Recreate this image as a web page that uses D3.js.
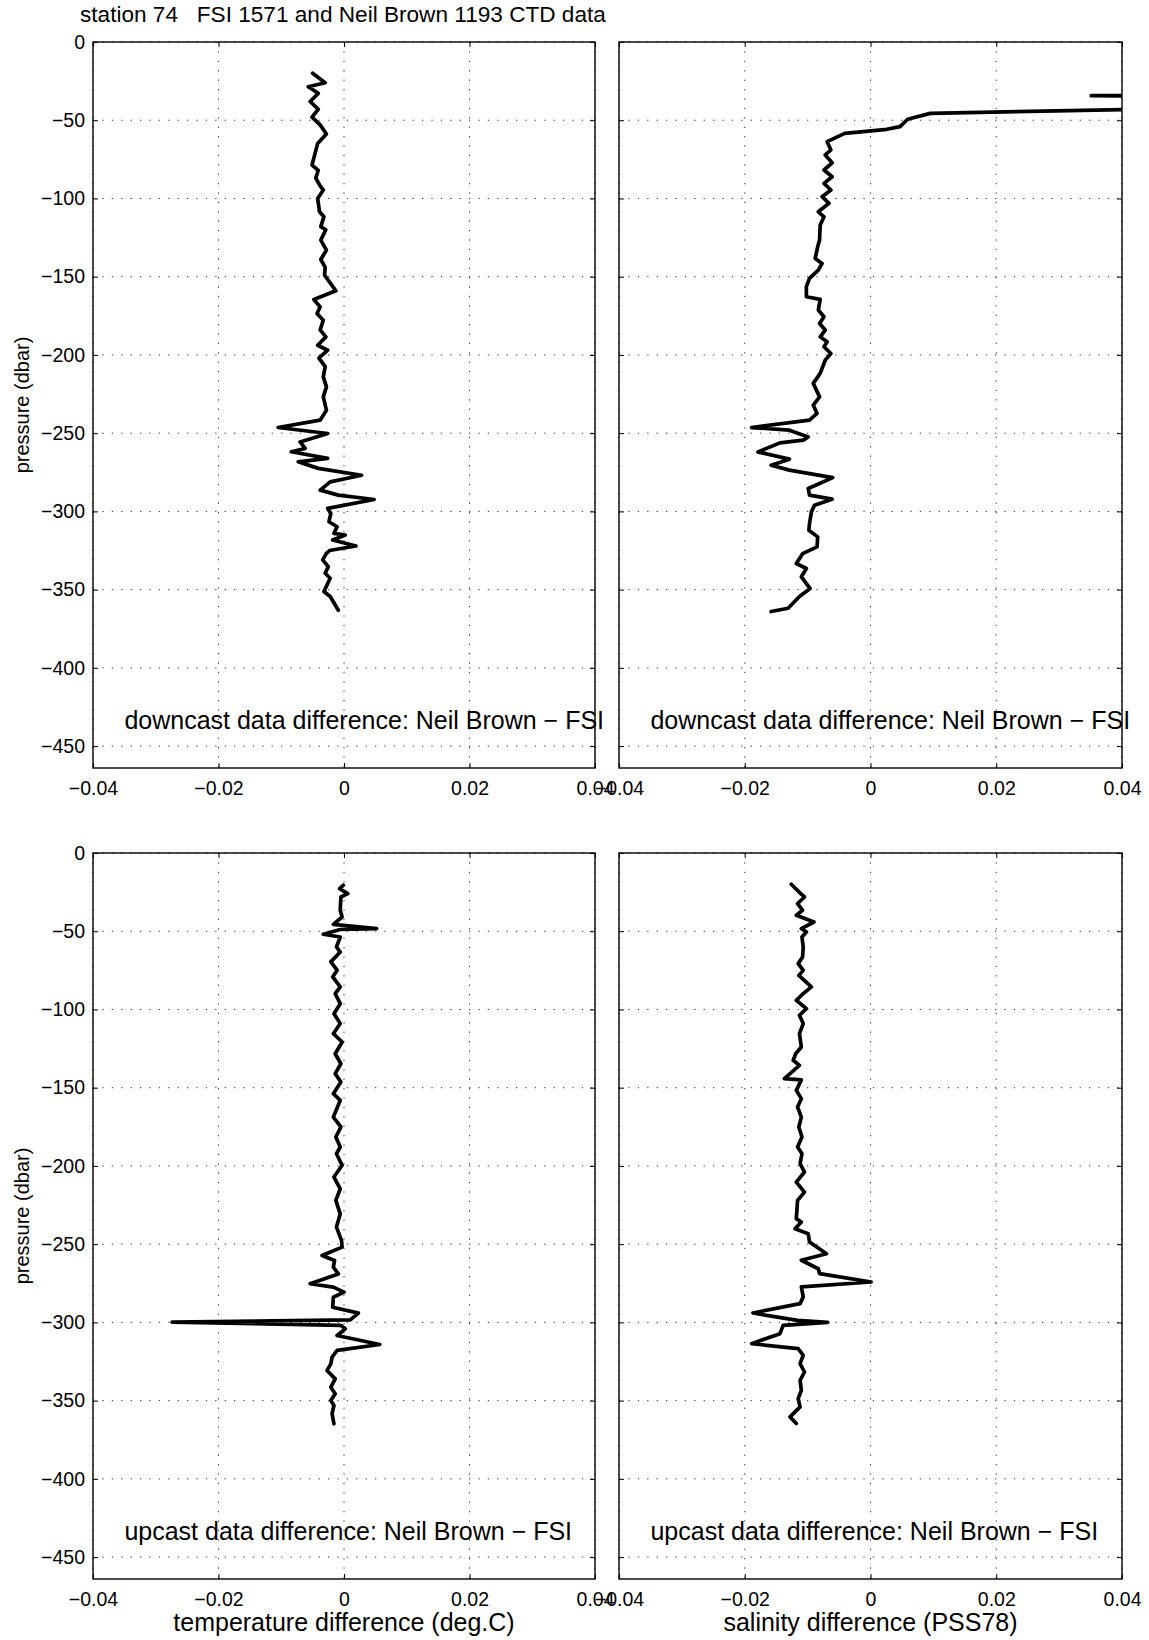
<!DOCTYPE html>
<html>
<head>
<meta charset="utf-8">
<script src="https://cdn.jsdelivr.net/npm/d3@7"></script>
<style>
  body { margin: 0; background: #fff; }
  text { font-family: "Liberation Sans", Arial, Helvetica, sans-serif; fill: #000; }
</style>
</head>
<body>
<svg id="chart"></svg>
<script>
// Figure size
const width = 1149;
const height = 1640;

// Panel boxes (left, right columns / top, bottom rows)
const cols = [{ x0: 93, x1: 595 }, { x0: 619, x1: 1122 }];
const rows = [{ y0: 42, y1: 768 }, { y0: 853, y1: 1579 }];

// Axis ranges and ticks
const xDomain = [-0.04, 0.04];
const yDomain = [-464, 0];
const xTicks = [-0.04, -0.02, 0, 0.02, 0.04];
const yTicks = [0, -50, -100, -150, -200, -250, -300, -350, -400, -450];

const titleText = "station 74   FSI 1571 and Neil Brown 1193 CTD data";
const yLabel = "pressure (dbar)";
const xLabels = ["temperature difference (deg.C)", "salinity difference (PSS78)"];
const noteText = ["downcast data difference: Neil Brown \u2212 FSI", "upcast data difference: Neil Brown \u2212 FSI"];

// downcast temperature difference [diff, pressure]
const downTemp = [
	[-0.0050, -20], [-0.0030, -26], [-0.0057, -28.6], [-0.0041, -32.8], [-0.0054, -38],
	[-0.0041, -43], [-0.0051, -48], [-0.0038, -53], [-0.0028, -58.8], [-0.0042, -64.8],
	[-0.0046, -71], [-0.0051, -78.6], [-0.0041, -82], [-0.0045, -87], [-0.0038, -92],
	[-0.0033, -94.6], [-0.0042, -100], [-0.0039, -108.5], [-0.0032, -111.7], [-0.0037, -118],
	[-0.0029, -120], [-0.0037, -126.6], [-0.0028, -133], [-0.0037, -139], [-0.0030, -144],
	[-0.0031, -149], [-0.0013, -159], [-0.0048, -164.6], [-0.0038, -169.3], [-0.0043, -173.5],
	[-0.0033, -177.8], [-0.0038, -184], [-0.0029, -188.5], [-0.0042, -193.8], [-0.0026, -197],
	[-0.0040, -202], [-0.0030, -207.5], [-0.0033, -214], [-0.0028, -220.4], [-0.0033, -226.8],
	[-0.0028, -235.3], [-0.0038, -241.7], [-0.0105, -246.4], [-0.0026, -250.2], [-0.0070, -255.6],
	[-0.0062, -259.8], [-0.0084, -261.9], [-0.0026, -266.1], [-0.0073, -268.3], [-0.0041, -272.5],
	[0.0028, -276.9], [-0.0022, -281.1], [-0.0038, -286.4], [-0.0009, -289.6], [0.0048, -292.4],
	[-0.0026, -298.1], [-0.0021, -301.3], [-0.0024, -306.6], [-0.0011, -309.8], [-0.0016, -314],
	[0.0002, -315.1], [-0.0018, -318.3], [0.0019, -322.1], [-0.0023, -325], [-0.0028, -326.8],
	[-0.0034, -331], [-0.0025, -335.3], [-0.0030, -339.5], [-0.0022, -342.7], [-0.0032, -351.2],
	[-0.0022, -354.4], [-0.0009, -363.2]
];

// downcast salinity difference [diff, pressure], starts off scale to the right
const downSal = [
	[0.3000, -30], [0.0351, -34.3], [0.3000, -39], [0.0400, -43.2], [0.0095, -45.6],
	[0.0059, -49.4], [0.0047, -54.1], [0.0026, -55.8], [-0.0041, -58.4], [-0.0069, -63.7],
	[-0.0063, -69], [-0.0072, -72.2], [-0.0061, -77.2], [-0.0074, -81.8], [-0.0061, -86.1],
	[-0.0074, -90.4], [-0.0063, -94.6], [-0.0077, -98.9], [-0.0066, -103.1], [-0.0083, -108.5],
	[-0.0074, -111.7], [-0.0080, -117], [-0.0081, -126.6], [-0.0084, -130.9], [-0.0088, -138.3],
	[-0.0077, -141.5], [-0.0083, -145.8], [-0.0097, -151.1], [-0.0102, -156.4], [-0.0102, -162.8],
	[-0.0080, -164.5], [-0.0083, -171.3], [-0.0074, -175.6], [-0.0081, -179.9], [-0.0072, -184.1],
	[-0.0080, -188.4], [-0.0069, -191.6], [-0.0074, -194.8], [-0.0063, -199.1], [-0.0072, -203.3],
	[-0.0080, -211.8], [-0.0091, -218.2], [-0.0086, -222.5], [-0.0081, -226.8], [-0.0091, -232.1],
	[-0.0085, -237.4], [-0.0097, -241.7], [-0.0189, -246.4], [-0.0129, -248.1], [-0.0099, -252.4],
	[-0.0107, -254.5], [-0.0144, -256.2], [-0.0179, -262], [-0.0129, -266.6], [-0.0158, -270.5],
	[-0.0129, -273.6], [-0.0060, -278.4], [-0.0099, -285.4], [-0.0097, -289.6], [-0.0061, -292.2],
	[-0.0089, -296], [-0.0094, -300.3], [-0.0097, -307.7], [-0.0098, -312], [-0.0084, -316.3],
	[-0.0085, -322.7], [-0.0108, -327], [-0.0118, -333.3], [-0.0102, -336.5], [-0.0110, -341.8],
	[-0.0096, -349.3], [-0.0113, -354.4], [-0.0131, -361.9], [-0.0158, -364]
];

// upcast temperature difference [diff, pressure]
const upTemp = [
	[-0.0001, -20.6], [-0.0007, -22.8], [0.0006, -26], [-0.0005, -28.1], [-0.0006, -36.6],
	[-0.0003, -40.9], [-0.0017, -45.6], [0.0052, -48.3], [-0.0006, -48.9], [-0.0033, -51.9],
	[-0.0006, -53.7], [-0.0012, -60], [-0.0006, -63.3], [-0.0021, -69.6], [-0.0011, -74.9],
	[-0.0018, -79.2], [-0.0006, -85.6], [-0.0014, -89.9], [-0.0006, -96.3], [-0.0016, -102.7],
	[-0.0006, -109], [-0.0017, -115.5], [-0.0003, -120.8], [-0.0014, -128.3], [-0.0005, -134.7],
	[-0.0014, -141], [-0.0005, -146.4], [-0.0017, -153.8], [-0.0006, -158.1], [-0.0017, -168.8],
	[-0.0005, -175.1], [-0.0013, -181.5], [-0.0006, -187.9], [-0.0012, -192.2], [-0.0003, -199.6],
	[-0.0016, -207.1], [-0.0006, -214.6], [-0.0013, -222], [-0.0006, -230.6], [-0.0012, -239.1],
	[-0.0004, -247.6], [-0.0003, -251.9], [-0.0035, -257.2], [-0.0015, -260.4], [-0.0017, -264.7],
	[-0.0009, -269], [-0.0054, -275.3], [-0.0017, -277.5], [0.0000, -280.7], [-0.0017, -283.9],
	[-0.0018, -290.3], [0.0023, -294.1], [0.0010, -298.4], [-0.0274, -299.8], [-0.0005, -301.9],
	[0.0002, -304.1], [-0.0011, -308.4], [0.0057, -314.1], [-0.0011, -317.9], [-0.0019, -322.2],
	[-0.0021, -326.5], [-0.0027, -330.7], [-0.0014, -336.1], [-0.0021, -341.4], [-0.0014, -345.6],
	[-0.0021, -349.9], [-0.0016, -353.1], [-0.0019, -358.4], [-0.0016, -364.8]
];

// upcast salinity difference [diff, pressure]
const upSal = [
	[-0.0126, -20], [-0.0111, -26], [-0.0105, -28.1], [-0.0116, -32.3], [-0.0108, -36.6],
	[-0.0118, -39.8], [-0.0090, -44.1], [-0.0110, -48.3], [-0.0102, -50.5], [-0.0109, -53.7],
	[-0.0107, -60], [-0.0108, -66.4], [-0.0115, -70.7], [-0.0107, -75], [-0.0114, -78.2],
	[-0.0094, -85.6], [-0.0107, -89.9], [-0.0118, -94.1], [-0.0102, -99.5], [-0.0113, -103.7],
	[-0.0107, -109], [-0.0113, -115.5], [-0.0110, -124], [-0.0119, -128.3], [-0.0123, -132.5],
	[-0.0113, -135.7], [-0.0137, -144.2], [-0.0110, -145], [-0.0118, -151.7], [-0.0110, -157],
	[-0.0116, -162.4], [-0.0110, -168.8], [-0.0114, -175.1], [-0.0109, -181.5], [-0.0116, -187.9],
	[-0.0109, -192.2], [-0.0112, -198.6], [-0.0105, -203.9], [-0.0118, -210.3], [-0.0105, -216.7],
	[-0.0116, -222], [-0.0118, -233.7], [-0.0110, -235.9], [-0.0120, -240.2], [-0.0099, -243.3],
	[-0.0097, -248.6], [-0.0070, -256.1], [-0.0110, -260.3], [-0.0083, -265.7], [-0.0081, -268.8],
	[0.0001, -274.2], [-0.0110, -277.3], [-0.0107, -283.7], [-0.0112, -288], [-0.0187, -294],
	[-0.0116, -298.7], [-0.0068, -300], [-0.0139, -301.9], [-0.0144, -307.2], [-0.0189, -313.6],
	[-0.0115, -316.8], [-0.0107, -321], [-0.0112, -326.4], [-0.0105, -331.7], [-0.0112, -337],
	[-0.0110, -343.4], [-0.0115, -348.7], [-0.0112, -354], [-0.0128, -360.4], [-0.0118, -364.6]
];

const panels = [
	{ row: 0, col: 0, data: downTemp, note: noteText[0] },
	{ row: 0, col: 1, data: downSal, note: noteText[0] },
	{ row: 1, col: 0, data: upTemp, note: noteText[1] },
	{ row: 1, col: 1, data: upSal, note: noteText[1] },
];

const svg = d3.select("#chart")
	.attr("width", width)
	.attr("height", height)
	.attr("xmlns", "http://www.w3.org/2000/svg");

svg.append("rect")
	.attr("width", width)
	.attr("height", height)
	.attr("fill", "#fff");

const xFmt = (d) => (d === 0 ? "0" : d3.format(".2f")(d));

panels.forEach((p, i) => {
	const c = cols[p.col];
	const r = rows[p.row];

	const xScale = d3.scaleLinear().domain(xDomain).range([c.x0, c.x1]);
	const yScale = d3.scaleLinear().domain(yDomain).range([r.y1, r.y0]);

	const g = svg.append("g");

	// clip for the lines
	svg.append("clipPath")
		.attr("id", "clip" + i)
		.append("rect")
		.attr("x", c.x0)
		.attr("y", r.y0)
		.attr("width", c.x1 - c.x0)
		.attr("height", r.y1 - r.y0);

	// dotted grid
	g.selectAll(".gx")
		.data(xTicks)
		.join("line")
		.attr("x1", (d) => xScale(d))
		.attr("x2", (d) => xScale(d))
		.attr("y1", r.y0)
		.attr("y2", r.y1)
		.attr("stroke", "#333")
		.attr("stroke-width", 1)
		.attr("stroke-dasharray", "1.3,8.1");

	g.selectAll(".gy")
		.data(yTicks)
		.join("line")
		.attr("x1", c.x0)
		.attr("x2", c.x1)
		.attr("y1", (d) => yScale(d))
		.attr("y2", (d) => yScale(d))
		.attr("stroke", "#333")
		.attr("stroke-width", 1)
		.attr("stroke-dasharray", "1.3,8.1");

	// data line
	g.append("path")
		.datum(p.data)
		.attr("clip-path", `url(#clip${i})`)
		.attr("fill", "none")
		.attr("stroke", "#000")
		.attr("stroke-width", 3.7)
		.attr("stroke-linejoin", "round")
		.attr("stroke-linecap", "round")
		.attr("d", d3.line()
			.x((d) => xScale(d[0]))
			.y((d) => yScale(d[1]))
		);

	// axes, ticks pointing inward
	const bottom = g.append("g")
		.attr("transform", `translate(0, ${r.y1})`)
		.call(d3.axisBottom(xScale).tickValues(xTicks).tickFormat(xFmt).tickSize(-5).tickPadding(13));
	bottom.selectAll("text").style("font-size", "19.5px");

	g.append("g")
		.attr("transform", `translate(0, ${r.y0})`)
		.call(d3.axisTop(xScale).tickValues(xTicks).tickFormat("").tickSize(-5));

	const left = g.append("g")
		.attr("transform", `translate(${c.x0}, 0)`)
		.call(d3.axisLeft(yScale).tickValues(yTicks).tickSize(-5).tickPadding(8)
			.tickFormat(p.col === 0 ? null : ""));
	left.selectAll("text").style("font-size", "19.5px");

	g.append("g")
		.attr("transform", `translate(${c.x1}, 0)`)
		.call(d3.axisRight(yScale).tickValues(yTicks).tickFormat("").tickSize(-5));

	g.selectAll(".domain").remove();
	g.selectAll(".tick line").attr("stroke", "#000").attr("stroke-width", 1);

	// box
	g.append("rect")
		.attr("x", c.x0)
		.attr("y", r.y0)
		.attr("width", c.x1 - c.x0)
		.attr("height", r.y1 - r.y0)
		.attr("fill", "none")
		.attr("stroke", "#000")
		.attr("stroke-width", 1.4);

	// panel note
	g.append("text")
		.attr("x", xScale(-0.035))
		.attr("y", yScale(-435))
		.attr("dominant-baseline", "middle")
		.style("font-size", "25px")
		.text(p.note);

	// labels
	if (p.col === 0) {
		g.append("text")
			.attr("transform", `translate(29, ${(r.y0 + r.y1) / 2}) rotate(-90)`)
			.attr("text-anchor", "middle")
			.style("font-size", "20px")
			.text(yLabel);
	}
	if (p.row === 1) {
		g.append("text")
			.attr("x", (c.x0 + c.x1) / 2)
			.attr("y", 1631)
			.attr("text-anchor", "middle")
			.style("font-size", "25px")
			.text(xLabels[p.col]);
	}
});

svg.append("text")
	.attr("x", 80)
	.attr("y", 22)
	.style("font-size", "22.6px")
	.style("white-space", "pre")
	.attr("xml:space", "preserve")
	.text(titleText);
</script>
</body>
</html>
